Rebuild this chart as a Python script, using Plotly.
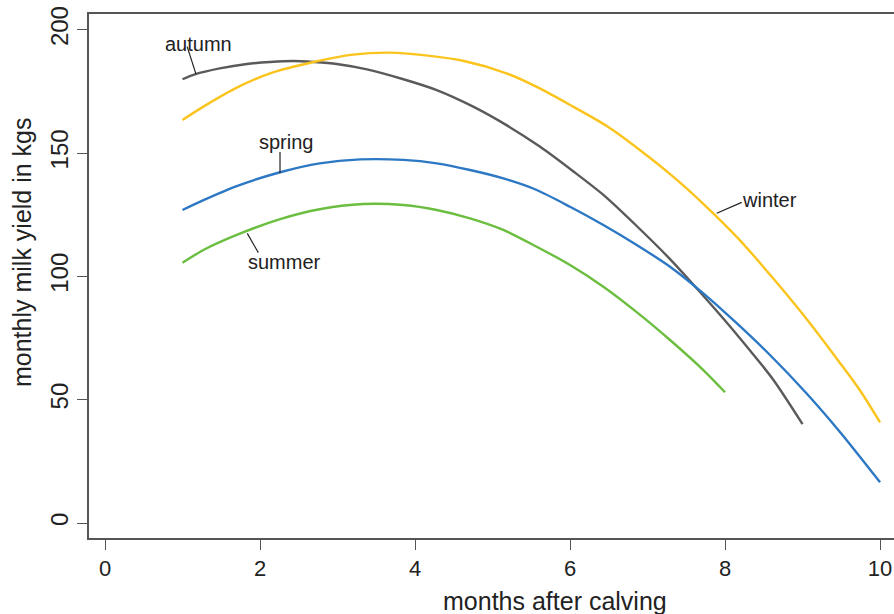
import plotly.graph_objects as go

# ---- data ----
autumn_x = [1.0, 1.16, 1.48, 1.83, 2.13, 2.43, 2.69, 2.99, 3.38, 3.85, 4.28, 4.75, 5.18, 5.61,
            6.04, 6.43, 6.86, 7.29, 7.63, 7.98, 8.32, 8.62, 9.0]
autumn_y = [179.9, 181.9, 184.3, 186.1, 186.9, 187.3, 186.9, 186.1, 183.9, 179.9, 175.5, 168.8,
            161.3, 152.6, 142.6, 133.0, 120.4, 107.0, 95.3, 82.8, 70.0, 58.2, 40.1]

winter_x = [1.0, 1.27, 1.70, 2.13, 2.69, 3.20, 3.68, 4.11, 4.62, 5.18, 5.61, 6.04, 6.47, 6.90,
            7.33, 7.76, 8.19, 8.62, 9.05, 9.48, 9.74, 10.0]
winter_y = [163.4, 168.8, 176.5, 182.3, 186.9, 189.9, 190.7, 189.7, 187.4, 182.3, 176.2, 168.8,
            161.0, 151.2, 140.4, 128.2, 114.7, 99.2, 82.8, 65.0, 53.8, 40.8]

spring_x = [1.0, 1.27, 1.70, 2.26, 2.77, 3.29, 3.85, 4.28, 4.71, 5.14, 5.57, 6.0, 6.43, 6.86,
            7.29, 7.72, 8.15, 8.58, 9.05, 9.48, 10.0]
spring_y = [126.9, 130.9, 136.6, 142.2, 145.8, 147.4, 147.2, 145.8, 143.1, 139.7, 135.0, 128.2,
            120.8, 112.7, 103.9, 93.1, 81.0, 68.1, 52.6, 37.0, 16.5]

summer_x = [1.0, 1.27, 1.70, 2.26, 2.77, 3.33, 3.85, 4.28, 4.71, 5.14, 5.57, 6.0, 6.43, 6.86,
            7.29, 7.72, 8.0]
summer_y = [105.5, 110.7, 116.8, 123.2, 127.2, 129.3, 128.9, 126.9, 123.5, 118.8, 112.0, 104.6,
            95.8, 85.5, 74.2, 62.0, 53.0]

x_ticks = [0, 2, 4, 6, 8, 10]
y_ticks = [0, 50, 100, 150, 200]

series = [
    ("autumn", autumn_x, autumn_y, "#5a5a5a"),
    ("winter", winter_x, winter_y, "#FBC41C"),
    ("spring", spring_x, spring_y, "#2C78C4"),
    ("summer", summer_x, summer_y, "#6BBE3F"),
]

# label text position and leader line (from curve point to label)
labels = {
    "autumn": dict(tx=1.20, ty=194.0, line=((1.174, 182.0), (1.06, 193.1))),
    "spring": dict(tx=2.34, ty=154.5, line=((2.258, 141.9), (2.258, 150.4))),
    "summer": dict(tx=2.31, ty=106.0, line=((1.836, 117.4), (1.978, 109.6))),
    "winter": dict(tx=8.58, ty=131.0, line=((7.893, 125.6), (8.215, 130.0))),
}

fig = go.Figure()
for name, xs, ys, col in series:
    fig.add_trace(go.Scatter(x=xs, y=ys, mode="lines", name=name,
                             line=dict(color=col, width=2.4, shape="spline", smoothing=0.8),
                             showlegend=False))

for name, d in labels.items():
    (x0, y0), (x1, y1) = d["line"]
    fig.add_shape(type="line", x0=x0, y0=y0, x1=x1, y1=y1, xref="x", yref="y",
                  line=dict(color="#222222", width=1.2))
    fig.add_annotation(x=d["tx"], y=d["ty"], text=name, showarrow=False,
                       font=dict(size=20, color="#222222"), xanchor="center", yanchor="middle")

axis_col = "#555555"
fig.update_xaxes(range=[-0.2065, 10.18], tickvals=x_ticks, ticktext=[str(v) for v in x_ticks],
                 showline=True, linecolor=axis_col, linewidth=1.5, mirror=True,
                 ticks="outside", ticklen=10, tickcolor=axis_col, tickwidth=1.2,
                 showgrid=False, zeroline=False,
                 tickfont=dict(size=22, color="#222222"))
fig.update_yaxes(range=[-6.08, 206.35], tickvals=y_ticks, ticktext=[str(v) for v in y_ticks],
                 showline=True, linecolor=axis_col, linewidth=1.5, mirror=False,
                 ticks="outside", ticklen=10, tickcolor=axis_col, tickwidth=1.2,
                 showgrid=False, zeroline=False, tickangle=-90,
                 tickfont=dict(size=24, color="#222222"))

fig.add_annotation(xref="paper", yref="paper", x=0.5789, y=-0.1202, text="months after calving",
                   showarrow=False, font=dict(size=25, color="#222222"),
                   xanchor="center", yanchor="middle")
fig.add_annotation(xref="paper", yref="paper", x=-0.0832, y=0.5458, text="monthly milk yield in kgs",
                   showarrow=False, font=dict(size=25, color="#222222"), textangle=-90,
                   xanchor="center", yanchor="middle")

fig.update_layout(width=894, height=614, margin=dict(l=89, r=0, t=14, b=76),
                  plot_bgcolor="white", paper_bgcolor="white",
                  font=dict(family="Liberation Sans, Arial, sans-serif"))

fig.write_html("out.html")
